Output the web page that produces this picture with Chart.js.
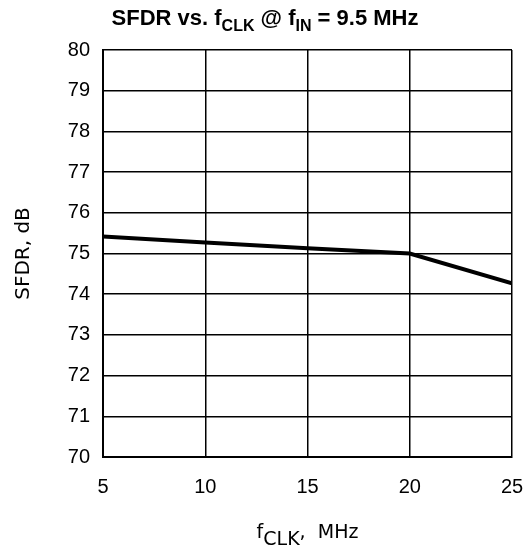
<!DOCTYPE html>
<html lang="en">
<head>
<meta charset="UTF-8" />
<title>SFDR vs fCLK</title>
<script src="https://cdn.jsdelivr.net/npm/chart.js@4/dist/chart.umd.min.js"></script>
<style>
  html, body { margin: 0; padding: 0; background: #fff; overflow: hidden; }
</style>
</head>
<body>
<canvas id="sfdrChart" width="528" height="550"></canvas>
<script>
const freqMHz = [5, 10, 15, 20, 25];
const sfdrDb = [75.42, 75.27, 75.13, 75.0, 74.27];

const titleParts = [
  { text: "SFDR vs. f", sub: false },
  { text: "CLK", sub: true },
  { text: " @ f", sub: false },
  { text: "IN", sub: true },
  { text: " = 9.5 MHz", sub: false },
];
const xTitleParts = [
  { text: "f", sub: false },
  { text: "CLK", sub: true },
  { text: ",  MHz", sub: false },
];
const yTitle = "SFDR, dB";

// draws a line of text with subscript pieces, centred on cx
function drawParts(ctx, parts, cx, baseY, font, subFont, subDrop) {
  let total = 0;
  for (const p of parts) {
    ctx.font = p.sub ? subFont : font;
    total += ctx.measureText(p.text).width;
  }
  let x = cx - total / 2;
  ctx.textAlign = "left";
  ctx.textBaseline = "alphabetic";
  for (const p of parts) {
    ctx.font = p.sub ? subFont : font;
    ctx.fillText(p.text, x, p.sub ? baseY + subDrop : baseY);
    x += ctx.measureText(p.text).width;
  }
}

const labelsPlugin = {
  id: "labels",
  afterDraw(chart) {
    const ctx = chart.ctx;
    const area = chart.chartArea;
    ctx.save();
    ctx.fillStyle = "#000";
    drawParts(ctx, titleParts, 265, 25,
      "bold 22px 'Liberation Sans', Arial, sans-serif",
      "bold 16px 'Liberation Sans', Arial, sans-serif", 6);
    drawParts(ctx, xTitleParts, (area.left + area.right) / 2, 538,
      "19px 'DejaVu Sans', sans-serif",
      "19px 'DejaVu Sans', sans-serif", 7);
    ctx.translate(24, (area.top + area.bottom) / 2);
    ctx.rotate(-Math.PI / 2);
    ctx.font = "20px 'DejaVu Sans', sans-serif";
    ctx.textAlign = "center";
    ctx.textBaseline = "middle";
    ctx.fillText(yTitle, 0, 0);
    ctx.restore();
  },
};

const ctx = document.getElementById("sfdrChart").getContext("2d");
new Chart(ctx, {
  type: "line",
  data: {
    datasets: [
      {
        label: "SFDR",
        data: freqMHz.map((f, i) => ({ x: f, y: sfdrDb[i] })),
        borderColor: "#000",
        borderWidth: 4,
        pointRadius: 0,
        tension: 0,
        fill: false,
      },
    ],
  },
  options: {
    responsive: false,
    animation: false,
    layout: { padding: { top: 50, right: 16, bottom: 0, left: 0 } },
    plugins: {
      legend: { display: false },
      tooltip: { enabled: false },
      title: { display: false },
    },
    scales: {
      x: {
        type: "linear",
        min: 5,
        max: 25,
        afterFit(scale) {
          scale.height = 93;
          scale.paddingRight = 0;
          scale.paddingLeft = 0;
        },
        ticks: {
          stepSize: 5,
          color: "#000",
          padding: 18,
          maxRotation: 0,
          font: { family: "'Liberation Sans', Arial, sans-serif", size: 20 },
        },
        grid: { color: "#000", lineWidth: 1.5, drawTicks: false },
        border: { color: "#000", width: 2 },
      },
      y: {
        min: 70,
        max: 80,
        afterFit(scale) { scale.width = 103; },
        ticks: {
          stepSize: 1,
          color: "#000",
          padding: 13,
          font: { family: "'Liberation Sans', Arial, sans-serif", size: 20 },
        },
        grid: { color: "#000", lineWidth: 1.5, drawTicks: false },
        border: { color: "#000", width: 2 },
      },
    },
  },
  plugins: [labelsPlugin],
});
</script>
</body>
</html>
